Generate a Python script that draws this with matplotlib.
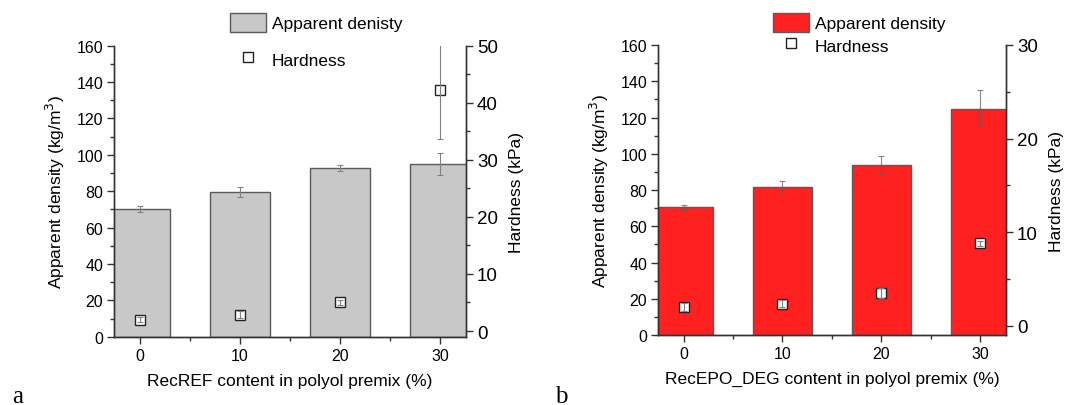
import matplotlib
matplotlib.use("Agg")
import matplotlib.pyplot as plt
from matplotlib.patches import Patch
from matplotlib.lines import Line2D
from matplotlib.ticker import MultipleLocator

plt.rcParams['font.family'] = ['Liberation Sans', 'DejaVu Sans']

content = [0, 10, 20, 30]

# Panel a (RecREF)
dens_a = [70.2, 79.4, 92.8, 94.9]
dens_a_err = [1.4, 2.7, 1.8, 6.0]
hard_a = [2.0, 2.85, 5.0, 42.3]
hard_a_err = [0.5, 0.6, 0.4, 8.7]

# Panel b (RecEPO_DEG)
dens_b = [70.5, 81.6, 93.6, 124.9]
dens_b_err = [1.5, 3.5, 4.9, 10.2]
hard_b = [2.0, 2.35, 3.5, 8.8]
hard_b_err = [0.4, 0.4, 0.5, 0.3]

xlabels = ["RecREF content in polyol premix (%)", "RecEPO_DEG content in polyol premix (%)"]
leg_labels = [["Apparent denisty", "Hardness"], ["Apparent density", "Hardness"]]
panel_letters = ["a", "b"]

fig = plt.figure(figsize=(10.84, 4.06), dpi=100)

FS_TICK = 11.5
FS_RTICK = 13.5
FS_LAB = 12.5
spine_c = '#333333'

def panel(rect, dens, derr, hard, herr, barcolor, errcolor, erralpha, hlim, hstep, xlabel, labels, leg_pos, leg_spacing, letter, letter_pos):
    ax = fig.add_axes(rect)
    ax.bar(content, dens, width=6, color=barcolor, edgecolor='#5a5a5a', linewidth=1.0, zorder=2)
    ax.errorbar(content, dens, yerr=derr, fmt='none', ecolor=errcolor, alpha=erralpha,
                elinewidth=0.8, capsize=2.5, capthick=0.8, zorder=3)
    ax.set_xlim(-2.55, 32.6)
    ax.set_ylim(0, 160)
    ax.set_xticks(content)
    ax.xaxis.set_minor_locator(MultipleLocator(5))
    ax.yaxis.set_major_locator(MultipleLocator(20))
    ax.yaxis.set_minor_locator(MultipleLocator(10))
    ax.spines['top'].set_visible(False)
    for s in ax.spines.values():
        s.set_color(spine_c)
        s.set_linewidth(1.0)
    ax.tick_params(axis='both', which='major', length=5, width=1, color=spine_c, labelsize=FS_TICK, pad=3)
    ax.tick_params(axis='both', which='minor', length=3, width=1, color=spine_c)
    ax.set_ylabel("Apparent density (kg/m$^3$)", fontsize=FS_LAB, labelpad=7)
    ax.set_xlabel(xlabel, fontsize=FS_LAB, labelpad=7)

    ax2 = ax.twinx()
    ax2.set_ylim(*hlim)
    ax2.yaxis.set_major_locator(MultipleLocator(hstep))
    ax2.yaxis.set_minor_locator(MultipleLocator(hstep / 2))
    ax2.plot(content, hard, linestyle='none', marker='s', markersize=7.5,
             markerfacecolor='white', markeredgecolor='#222222', markeredgewidth=1.0, zorder=4)
    ax2.errorbar(content, hard, yerr=herr, fmt='none', ecolor='#808080',
                 elinewidth=0.8, capsize=2.5, capthick=0.8, zorder=5)
    ax2.spines['top'].set_visible(False)
    for s in ax2.spines.values():
        s.set_color(spine_c)
        s.set_linewidth(1.0)
    ax2.tick_params(axis='y', which='major', length=5, width=1, color=spine_c, labelsize=FS_RTICK, pad=3)
    ax2.tick_params(axis='y', which='minor', length=3, width=1, color=spine_c)
    ax2.set_ylabel("Hardness (kPa)", fontsize=FS_LAB, labelpad=8)

    handles = [Patch(facecolor=barcolor, edgecolor='#5a5a5a', linewidth=1.0),
               Line2D([], [], linestyle='none', marker='s', markersize=6.5,
                      markerfacecolor='white', markeredgecolor='#222222', markeredgewidth=1.0)]
    fig.legend(handles, labels, loc='upper left', bbox_to_anchor=leg_pos, frameon=False,
               fontsize=FS_LAB, handlelength=2.1, handleheight=1.3, handletextpad=0.3,
               labelspacing=leg_spacing, borderpad=0, borderaxespad=0)
    fig.text(letter_pos[0], letter_pos[1], letter, family=['Liberation Serif', 'DejaVu Serif'],
             fontsize=18, ha='left', va='baseline')
    return ax, ax2

panel([0.1054, 0.1682, 0.3245, 0.7168], dens_a, dens_a_err, hard_a, hard_a_err,
      '#c8c8c8', '#808080', 1.0, (-1, 50), 10, xlabels[0], leg_labels[0],
      (230 / 1084, 1 - 14 / 406), 1.0, panel_letters[0], (12 / 1084, 1 - 403 / 406))
panel([0.6073, 0.1724, 0.3207, 0.7143], dens_b, dens_b_err, hard_b, hard_b_err,
      '#ff2020', '#606060', 0.75, (-1, 30), 10, xlabels[1], leg_labels[1],
      (773 / 1084, 1 - 14 / 406), 0.2, panel_letters[1], (555 / 1084, 1 - 403 / 406))

fig.savefig("out.png", dpi=100)
